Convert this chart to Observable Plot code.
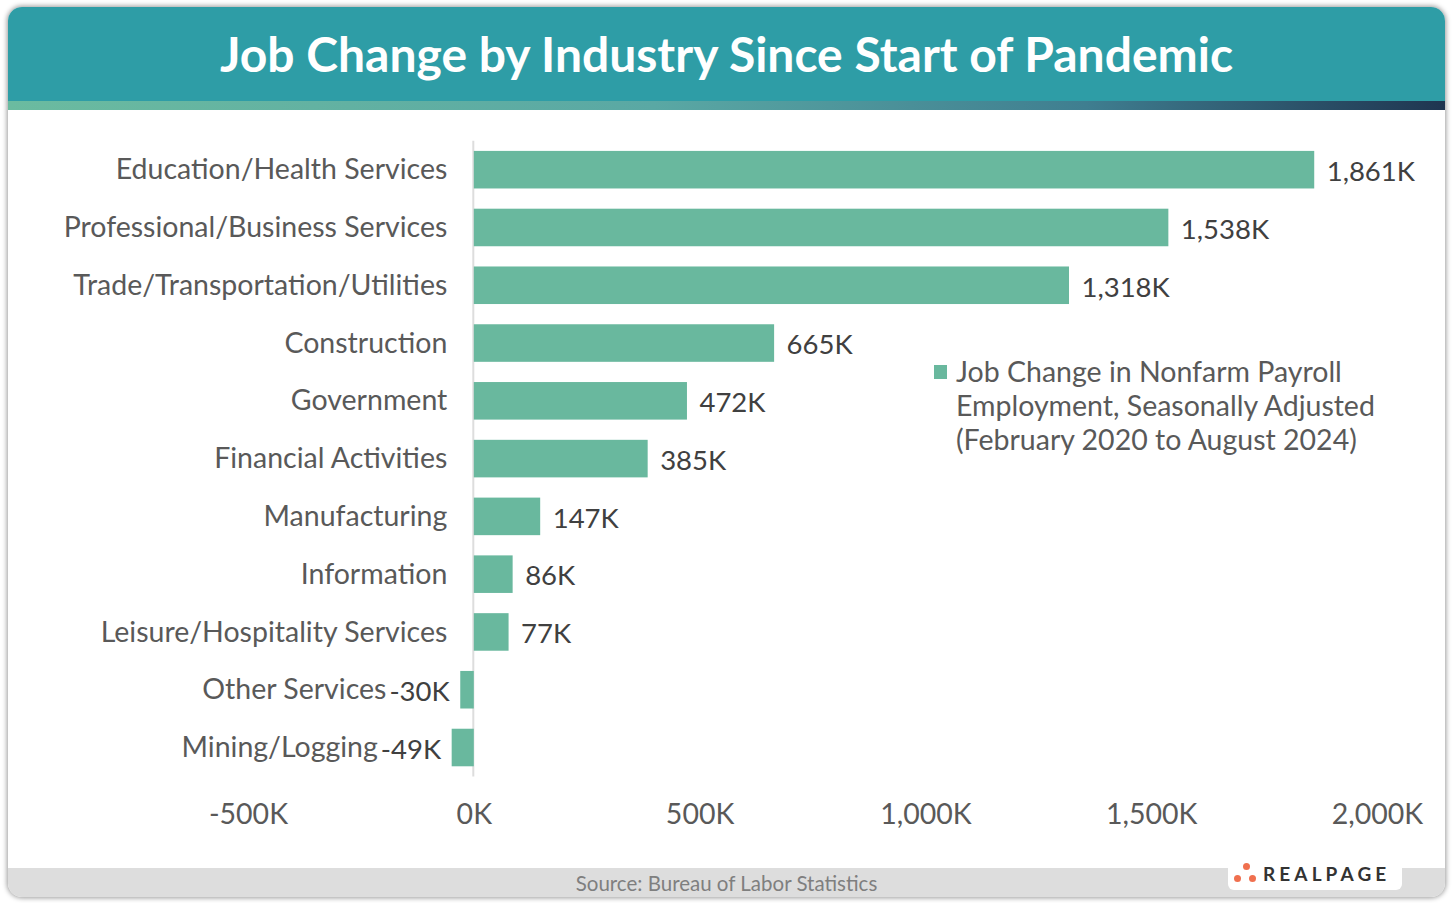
<!DOCTYPE html>
<html><head><meta charset="utf-8">
<script src="https://cdn.jsdelivr.net/npm/d3@7"></script>
<script src="https://cdn.jsdelivr.net/npm/@observablehq/plot@0.6"></script>
<style>
body{margin:0;width:1455px;height:903px;background:#fff;font-family:Lato,sans-serif;overflow:hidden;position:relative}
#card{position:absolute;left:8px;top:7px;width:1437px;height:890px;border-radius:14px;background:#fff;box-shadow:0 0 5px 1px rgba(0,0,0,0.4);overflow:hidden}
#header{position:absolute;left:0;top:0;width:100%;height:94px;background:#2E9DA6}
#title{position:absolute;left:0;top:0;width:100%;height:94px;line-height:94px;text-align:center;color:#fff;font-weight:700;font-size:48px;white-space:nowrap}
#strip{position:absolute;left:0;top:94px;height:9px;width:100%;background:linear-gradient(to right,#6BBBA0 0%,#5AA8A4 45%,#3F7E90 75%,#1F3550 100%)}
#chart{position:absolute;left:0;top:103px;line-height:0}
#chart svg{display:block}
#footer{position:absolute;left:0;top:861px;height:29px;width:100%;background:#DDDDDD}
#source{position:absolute;left:0;width:100%;top:3px;text-align:center;color:#7F7F7F;font-size:20.5px}
#logo{position:absolute;left:1220px;top:855px;width:174px;height:28px;background:#fff;border-radius:0 0 6px 6px}
#logo .t{position:absolute;left:35px;top:0px;font-size:19px;font-weight:700;letter-spacing:4.1px;color:#333}
#logo .d{position:absolute;width:7px;height:7px;border-radius:50%;background:#F0704F}
#legend{position:absolute;left:925px;top:347px;color:#595959;font-size:28.5px;line-height:34px}
#legend .sw{position:absolute;left:1px;top:11px;width:13px;height:14px;background:#69B89E}
#legend .tx{position:absolute;left:23px;top:0;white-space:nowrap}
</style></head>
<body>
<div id="card">
  <div id="header"><div id="title">Job Change by Industry Since Start of Pandemic</div></div>
  <div id="strip"></div>
  <div id="chart"></div>
  <div id="legend"><div class="sw"></div><div class="tx"></div></div>
  <div id="footer"><div id="source">Source: Bureau of Labor Statistics</div></div>
  <div id="logo"><div class="d" style="left:15px;top:1px"></div><div class="d" style="left:6px;top:13px"></div><div class="d" style="left:21px;top:13px"></div><div class="t">REALPAGE</div></div>
</div>
<script>
const industries = ["Education/Health Services","Professional/Business Services","Trade/Transportation/Utilities","Construction","Government","Financial Activities","Manufacturing","Information","Leisure/Hospitality Services","Other Services","Mining/Logging"];
const jobChange = [1861,1538,1318,665,472,385,147,86,77,-30,-49];
const xTicks = [-500,0,500,1000,1500,2000];
const legendLines = ["Job Change in Nonfarm Payroll","Employment, Seasonally Adjusted","(February 2020 to August 2024)"];

document.querySelector("#legend .tx").innerHTML = legendLines.join("<br>");

const fmt = v => (v < 0 ? "-" : "") + d3.format(",")(Math.abs(v)) + "K";
const data = industries.map((name, i) => ({name, value: jobChange[i]}));
const pos = data.filter(d => d.value >= 0);
const neg = data.filter(d => d.value < 0);

const FS = 28.5, VFS = 27.5;
const ctx = document.createElement("canvas").getContext("2d");
ctx.font = `${VFS}px Lato`;
const measure = s => ctx.measureText(s).width;

const W = 1437, ML = 240, MR = 68;
const pxPerK = (W - ML - MR) / 2500;
// category label for negative bars sits left of the value label
const negLabelX = d => d.value - (11 + measure(fmt(d.value)) + 3) / pxPerK;

const plot = Plot.plot({
  width: W,
  height: 758,
  marginLeft: ML,
  marginRight: MR,
  marginTop: 30.8,
  marginBottom: 91.6,
  style: {fontFamily: "Lato, sans-serif", fontSize: FS + "px", background: "transparent"},
  x: {domain: [-500, 2000], label: null},
  y: {domain: industries, paddingInner: 0.35, paddingOuter: 0.175, round: false, axis: null},
  marks: [
    Plot.ruleX([0], {stroke: "#DDDDDD", strokeWidth: 2, dx: -1}),
    Plot.barX(data, {y: "name", x: "value", fill: "#69B89E"}),
    Plot.text(pos, {y: "name", x: 0, text: "name", textAnchor: "end", dx: -27, fill: "#595959", fontSize: FS}),
    Plot.text(neg, {y: "name", x: negLabelX, text: "name", textAnchor: "end", fill: "#595959", fontSize: FS}),
    Plot.text(pos, {y: "name", x: "value", text: d => fmt(d.value), textAnchor: "start", dx: 12, dy: 2, fill: "#404040", fontSize: VFS}),
    Plot.text(neg, {y: "name", x: "value", text: d => fmt(d.value), textAnchor: "end", dx: -11, dy: 2, fill: "#404040", fontSize: VFS}),
    Plot.axisX({ticks: xTicks, tickFormat: fmt, tickSize: 0, tickPadding: 27, fill: "#595959", fontSize: FS, label: null})
  ]
});
document.getElementById("chart").appendChild(plot);
</script>
</body></html>
